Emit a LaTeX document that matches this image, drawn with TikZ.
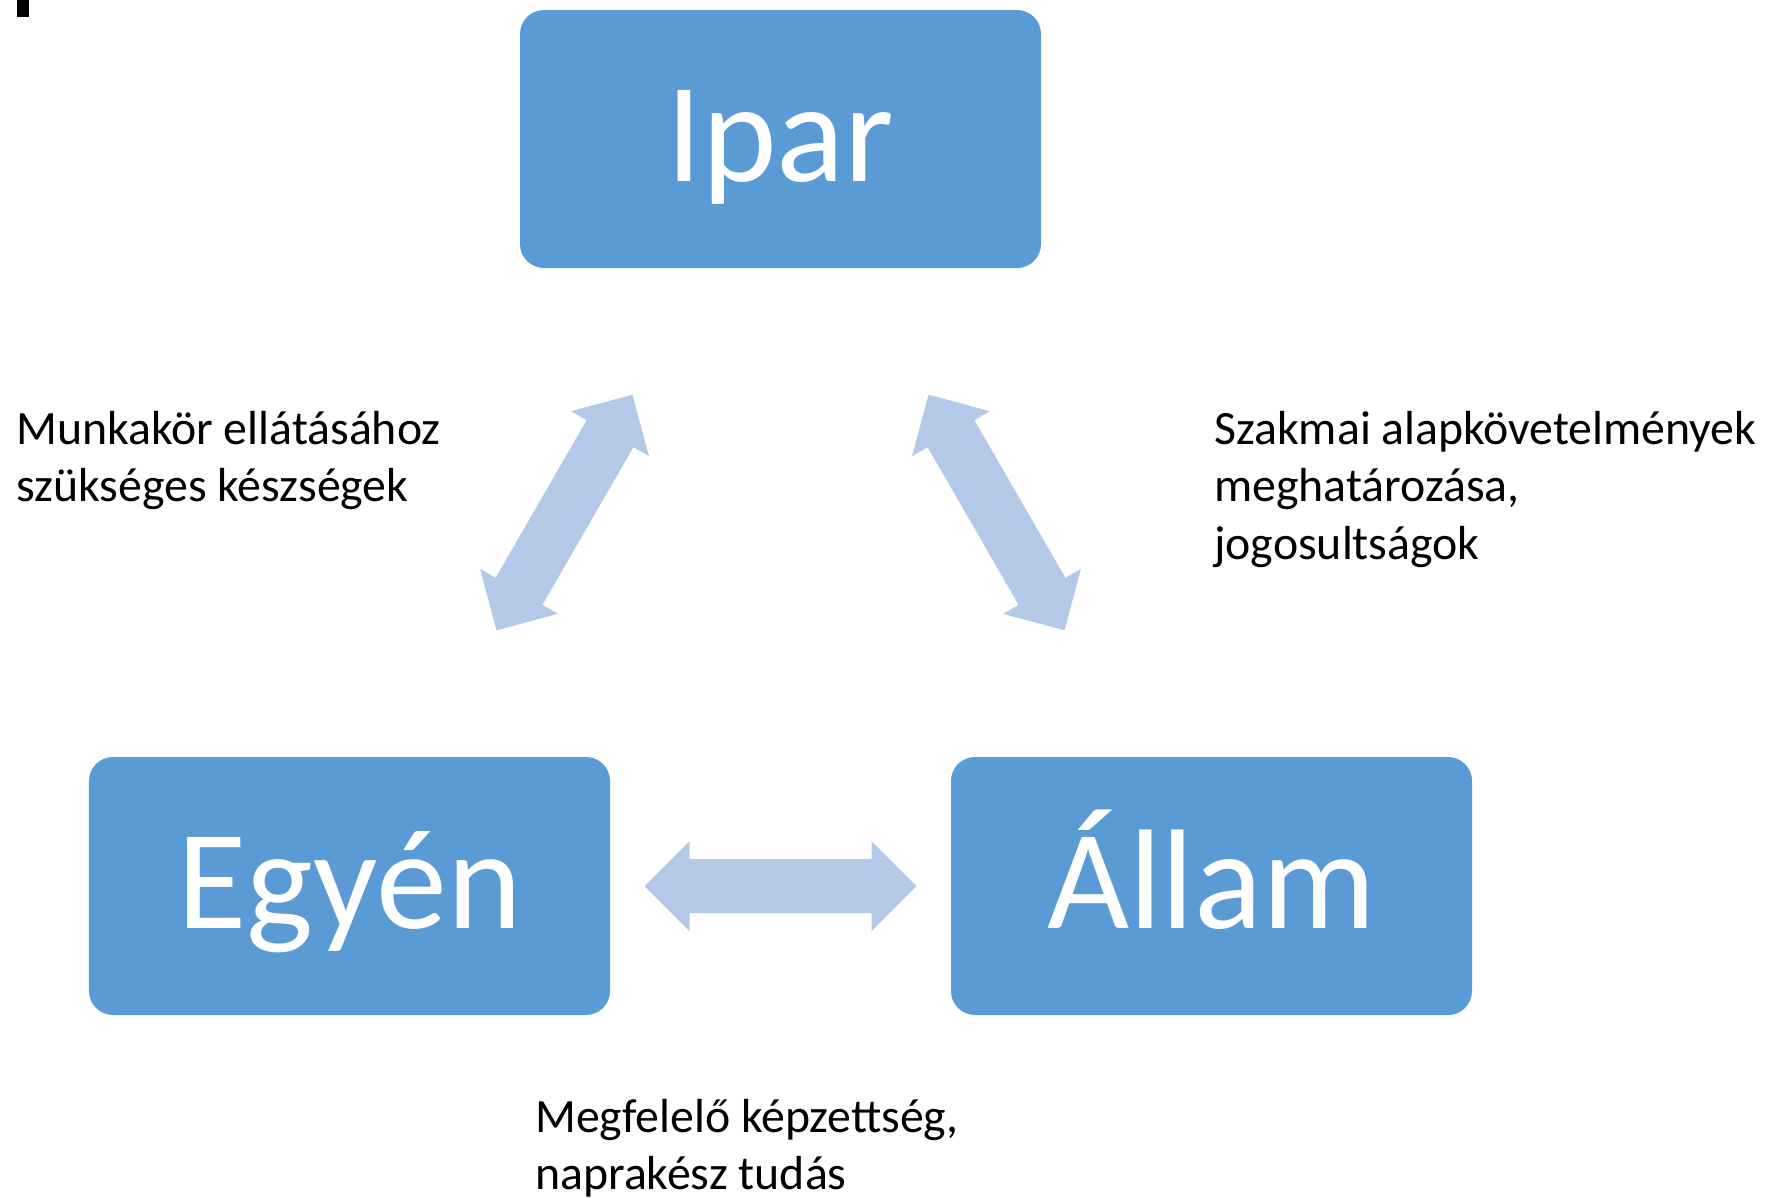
\documentclass[tikz,border=0pt]{standalone}
\usepackage{fontspec}
\setmainfont{Carlito}
\definecolor{boxblue}{HTML}{5B9BD5}
\definecolor{arrowblue}{HTML}{B4C9E8}
\begin{document}
\begin{tikzpicture}[x=1bp,y=-1bp,
  box/.style={fill=boxblue, rounded corners=24bp, minimum width=521bp,
    minimum height=258bp, inner sep=0pt, text=white,
    font=\fontsize{142bp}{170bp}\selectfont, text height=100bp, text depth=16bp},
  note/.style={inner sep=0pt, anchor=base west,
    font=\fontsize{47.8bp}{57.5bp}\selectfont},
  dblarrow/.pic={\fill[arrowblue] (-136,0) -- (-91,45) -- (-91,27) -- (91,27)
    -- (91,45) -- (136,0) -- (91,-45) -- (91,-27) -- (-91,-27) -- (-91,-45) -- cycle;}
]
\useasboundingbox (0,0) rectangle (1767,1197);
\fill[white] (0,0) rectangle (1767,1197);
% small black mark at top left
\fill[black] (17,0) rectangle (29,17);

\node[box] (ipar) at (780.5,139) {Ipar};
\node[box] (egyen) at (349.5,886) {Egyén};
\node[box] (allam) at (1211.5,886) {Állam};

\coordinate (aL) at (564.5,512.5);
\coordinate (aR) at (996.5,512.5);
\coordinate (aB) at (780.5,886);
\pic[rotate=60] at (aL) {dblarrow};
\pic[rotate=-60] at (aR) {dblarrow};
\pic at (aB) {dblarrow};

\node[note] (tl) at (16,444) {\begin{tabular}[t]{@{}l@{}}Munkakör ellátásához\\szükséges készségek\end{tabular}};
\node[note] (tr) at (1214,444) {\begin{tabular}[t]{@{}l@{}}Szakmai alapkövetelmények\\meghatározása,\\jogosultságok\end{tabular}};
\node[note] (tb) at (535,1132) {\begin{tabular}[t]{@{}l@{}}Megfelelő képzettség,\\naprakész tudás\end{tabular}};
\end{tikzpicture}
\end{document}
